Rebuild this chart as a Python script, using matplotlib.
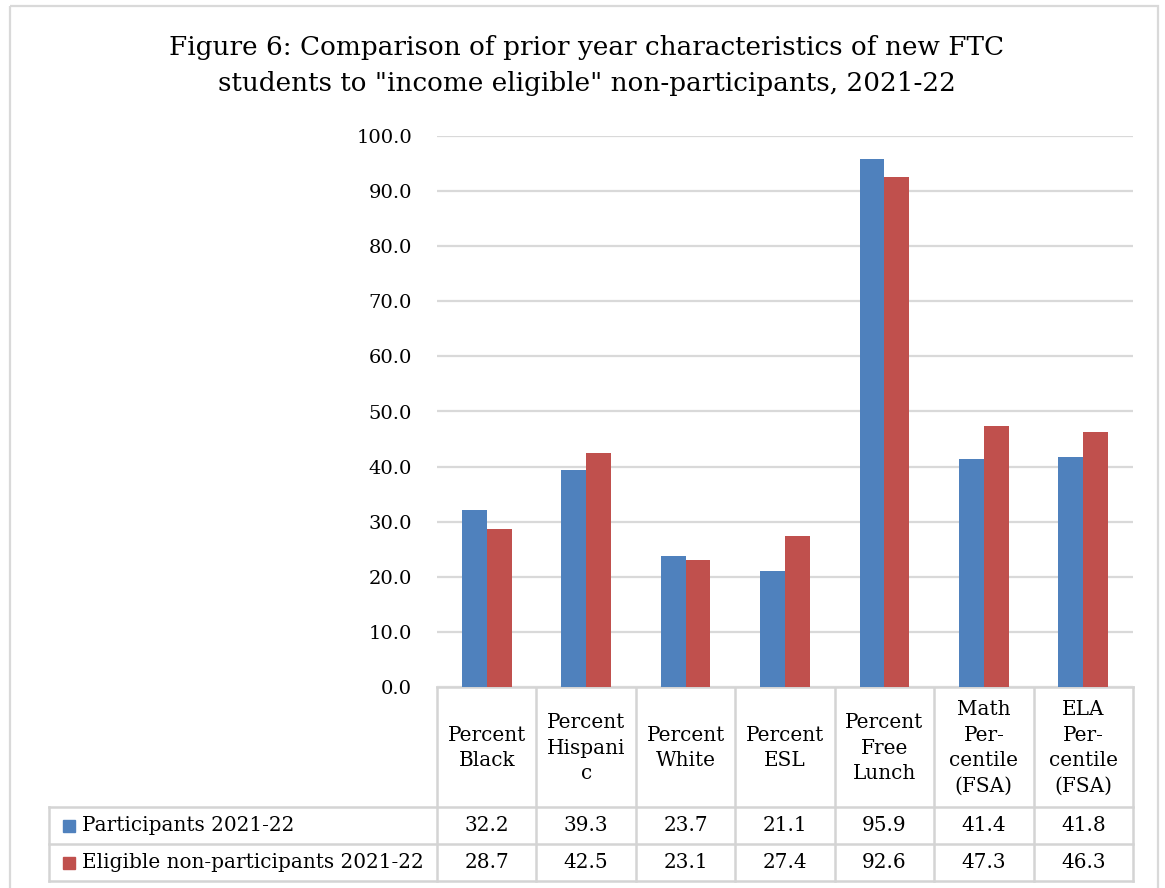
import matplotlib

matplotlib.use("Agg")

import matplotlib.pyplot as plt
from matplotlib.patches import Rectangle
import numpy as np

CATEGORIES = [
    "Percent\nBlack",
    "Percent\nHispani\nc",
    "Percent\nWhite",
    "Percent\nESL",
    "Percent\nFree\nLunch",
    "Math\nPer-\ncentile\n(FSA)",
    "ELA\nPer-\ncentile\n(FSA)",
]
SERIES_NAMES = ["Participants 2021-22", "Eligible non-participants 2021-22"]
PARTICIPANTS = [32.2, 39.3, 23.7, 21.1, 95.9, 41.4, 41.8]
ELIGIBLE = [28.7, 42.5, 23.1, 27.4, 92.6, 47.3, 46.3]
Y_TICKS = [0, 10, 20, 30, 40, 50, 60, 70, 80, 90, 100]

TITLE = ('Figure 6: Comparison of prior year characteristics of new FTC\n'
         'students to "income eligible" non-participants, 2021-22')

BLUE = "#4F81BD"
RED = "#C0504D"
GRID = "#D9D9D9"
FONT = ["DejaVu Serif"]
FS = 14
FS_TABLE = 14.4

W, H = 1165, 888
plt.rcParams["font.family"] = FONT

fig = plt.figure(figsize=(W / 100, H / 100), dpi=100)

# overlay in pixel coordinates for border, title and data table
ov = fig.add_axes([0, 0, 1, 1])
ov.set_xlim(0, W)
ov.set_ylim(H, 0)
ov.axis("off")

# chart plot area (pixel box)
px_left, px_right, px_top, px_bottom = 437, 1133, 136, 687
ax = fig.add_axes([px_left / W, 1 - px_bottom / H,
                   (px_right - px_left) / W, (px_bottom - px_top) / H])

n = len(CATEGORIES)
x = np.arange(n)
bw = 0.25
ax.bar(x - bw / 2, PARTICIPANTS, width=bw, color=BLUE, zorder=3)
ax.bar(x + bw / 2, ELIGIBLE, width=bw, color=RED, zorder=3)
ax.set_xlim(-0.5, n - 0.5)
ax.set_ylim(0, 100)
ax.set_yticks(Y_TICKS)
ax.set_yticklabels([f"{v:.1f}" for v in Y_TICKS], fontsize=FS)
ax.tick_params(axis="y", length=0, pad=18)
ax.set_xticks([])
ax.grid(axis="y", color=GRID, linewidth=1.6, zorder=0)
for s in ax.spines.values():
    s.set_visible(False)

# outer chart border
ov.add_patch(Rectangle((10, 6), 1148, 900, fill=False, edgecolor=GRID, linewidth=1.6))

ov.text(587, 66, TITLE, ha="center", va="center", fontsize=18.9, linespacing=1.55)

# data table
col_w = (px_right - px_left) / n
row_top, row1, row2, row_bot = 687, 807, 844, 881
tab_left = 49
lc = "#D4D4D4"
lw = 1.8
ov.plot([tab_left, px_right], [row1, row1], color=lc, lw=lw)
ov.plot([tab_left, px_right], [row2, row2], color=lc, lw=lw)
ov.plot([tab_left, px_right], [row_bot, row_bot], color=lc, lw=lw)
ov.plot([px_left, px_right], [row_top, row_top], color=lc, lw=lw)
ov.plot([tab_left, tab_left], [row1, row_bot], color=lc, lw=lw)
for i in range(n + 1):
    cx = px_left + i * col_w
    ov.plot([cx, cx], [row_top, row_bot], color=lc, lw=lw)

for i, cat in enumerate(CATEGORIES):
    cx = px_left + (i + 0.5) * col_w
    ov.text(cx, (row_top + row1) / 2 + 1, cat, ha="center", va="center",
            fontsize=FS_TABLE, linespacing=1.45)
    ov.text(cx, (row1 + row2) / 2, f"{PARTICIPANTS[i]:.1f}", ha="center",
            va="center", fontsize=FS_TABLE)
    ov.text(cx, (row2 + row_bot) / 2, f"{ELIGIBLE[i]:.1f}", ha="center",
            va="center", fontsize=FS_TABLE)

for (y0, y1), name, col in zip([(row1, row2), (row2, row_bot)], SERIES_NAMES, [BLUE, RED]):
    ym = (y0 + y1) / 2
    ov.add_patch(Rectangle((63, ym - 6), 12, 12, color=col))
    ov.text(82, ym, name, ha="left", va="center", fontsize=FS_TABLE)

fig.savefig("out.png", dpi=100)
